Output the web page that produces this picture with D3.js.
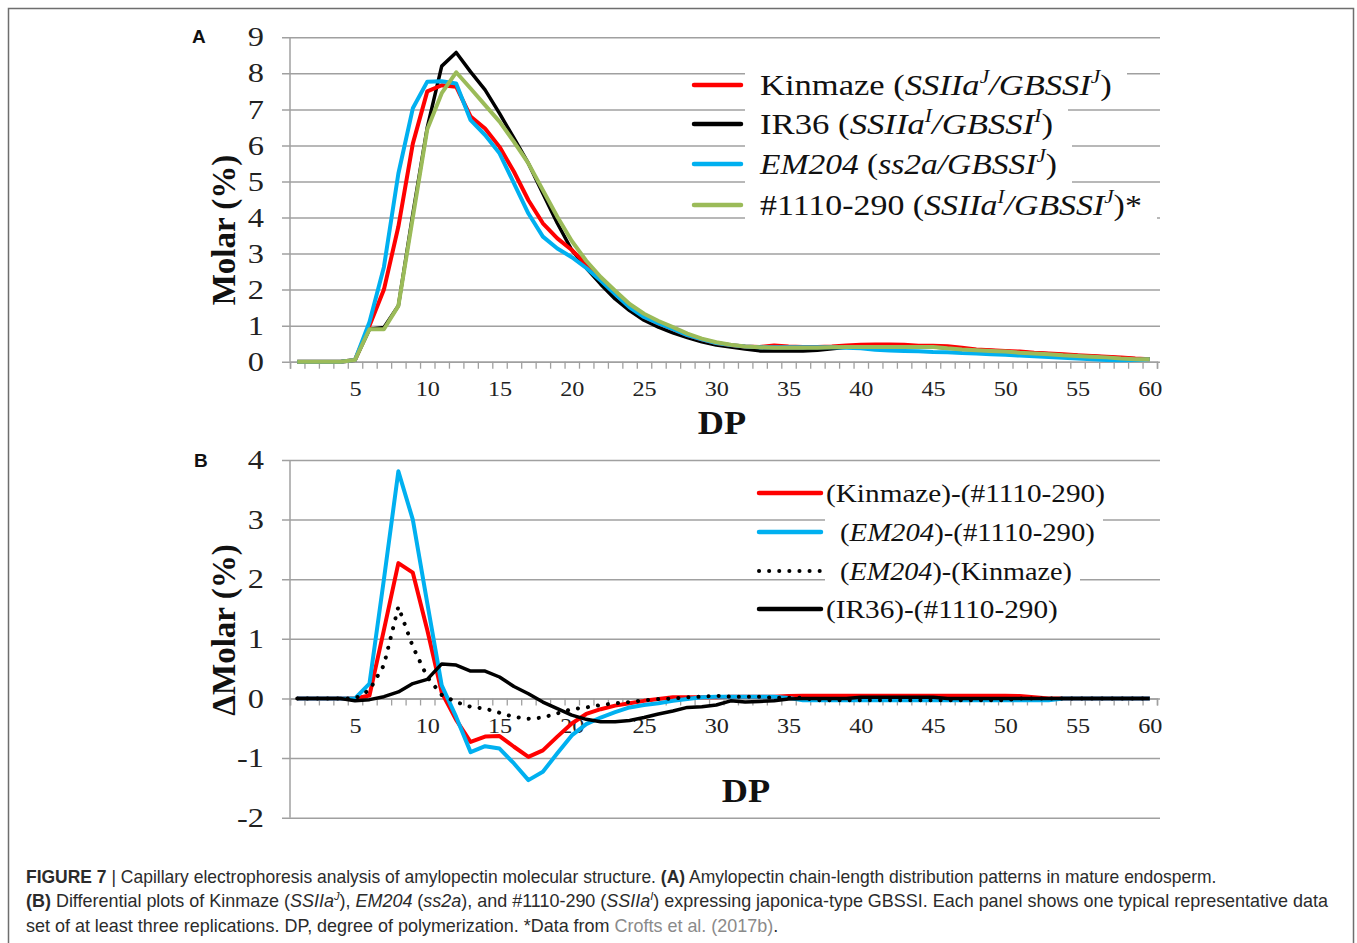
<!DOCTYPE html>
<html><head><meta charset="utf-8">
<script src="https://cdn.jsdelivr.net/npm/d3@7"></script>
<style>body{margin:0;background:#fff}svg{display:block}</style>
</head><body><svg id="c" width="1357" height="943"></svg>
<script>
// ---------- DATA ----------
const dp = d3.range(1, 61);
const xTickLabels = [5,10,15,20,25,30,35,40,45,50,55,60];
const yTicksA = [0,1,2,3,4,5,6,7,8,9];
const yTicksB = [-2,-1,0,1,2,3,4];

// Panel A: Molar (%) by DP 1..60
const kinmaze = [0,0,0,0,0.05,1.0,2.0,3.75,6.05,7.5,7.67,7.63,6.8,6.47,5.96,5.27,4.48,3.84,3.42,3.1,
  2.7,2.3,1.9,1.55,1.25,1.06,0.9,0.74,0.62,0.52,0.46,0.42,0.41,0.45,0.42,0.41,0.41,0.42,0.45,0.47,
  0.48,0.48,0.47,0.44,0.44,0.43,0.39,0.34,0.32,0.30,0.28,0.25,0.23,0.21,0.18,0.16,0.14,0.12,0.09,0.07];
const ir36 = [0,0,0,0,0.05,0.9,0.95,1.55,4.1,6.5,8.2,8.58,8.04,7.54,6.89,6.2,5.5,4.67,3.84,3.1,
  2.6,2.15,1.74,1.42,1.15,0.96,0.8,0.67,0.55,0.46,0.41,0.35,0.3,0.3,0.3,0.3,0.32,0.36,0.4,0.43,
  0.46,0.46,0.44,0.42,0.41,0.38,0.35,0.33,0.31,0.29,0.26,0.24,0.22,0.19,0.17,0.15,0.13,0.1,0.08,0.07];
const em204 = [0,0,0,0,0.05,1.1,2.63,5.22,7.03,7.77,7.78,7.72,6.7,6.29,5.78,4.95,4.11,3.47,3.14,2.9,
  2.6,2.25,1.88,1.51,1.24,1.06,0.9,0.74,0.62,0.52,0.46,0.42,0.4,0.4,0.4,0.4,0.4,0.4,0.39,0.37,
  0.33,0.31,0.30,0.29,0.27,0.26,0.24,0.23,0.21,0.19,0.17,0.15,0.13,0.11,0.09,0.07,0.05,0.04,0.05,0.07];
const l1110 = [0,0,0,0,0.05,0.9,0.9,1.55,4.0,6.45,7.45,8.03,7.58,7.12,6.66,6.1,5.5,4.76,4.02,3.35,
  2.8,2.35,1.97,1.6,1.33,1.13,0.96,0.78,0.64,0.54,0.47,0.42,0.4,0.39,0.39,0.39,0.39,0.4,0.41,0.41,
  0.41,0.41,0.41,0.41,0.41,0.37,0.34,0.32,0.30,0.28,0.25,0.23,0.21,0.18,0.16,0.14,0.12,0.09,0.07,0.07];

// Panel B: delta Molar (%) by DP 1..60
const dKin1110 = [0,0,0,0,0,0.05,1.15,2.27,2.11,1.15,0.1,-0.36,-0.73,-0.64,-0.63,-0.81,-0.98,-0.87,-0.64,-0.42,
  -0.26,-0.18,-0.12,-0.08,-0.04,-0.01,0.02,0.02,0.02,0.02,0.03,0.03,0.03,0.03,0.04,0.045,0.045,0.045,0.045,0.045,
  0.045,0.045,0.045,0.045,0.045,0.045,0.045,0.045,0.045,0.045,0.04,0.02,0,0,0,0,0,0,0,0];
const dEm1110 = [0,0,0,0,0,0.25,2.0,3.81,3.0,1.6,0.22,-0.31,-0.9,-0.8,-0.84,-1.09,-1.37,-1.23,-0.92,-0.62,
  -0.43,-0.32,-0.23,-0.15,-0.11,-0.08,-0.04,-0.01,0.02,0.03,0.03,0.03,0.03,0.03,0.01,-0.03,-0.03,-0.03,-0.03,-0.03,
  -0.03,-0.03,-0.03,-0.03,-0.03,-0.03,-0.03,-0.03,-0.03,-0.03,-0.03,-0.03,-0.03,0,0,0,0,0,0,0];
const dEmKin = [0,0,0,0,0,0.14,0.56,1.54,0.87,0.36,0.06,-0.06,-0.14,-0.17,-0.24,-0.31,-0.34,-0.32,-0.25,-0.18,
  -0.15,-0.11,-0.08,-0.06,-0.03,-0.01,0,0.02,0.03,0.045,0.03,0.03,0.03,0.01,0.01,0.01,-0.03,-0.03,-0.03,-0.03,
  -0.03,-0.03,-0.03,-0.03,-0.03,-0.03,-0.03,-0.03,-0.03,-0.03,0,0,0,0,0,0,0,0,0,0];
const dIr1110 = [0,0,0,0,-0.04,-0.02,0.03,0.11,0.25,0.32,0.58,0.56,0.46,0.46,0.36,0.2,0.08,-0.06,-0.17,-0.28,
  -0.35,-0.39,-0.39,-0.37,-0.32,-0.26,-0.21,-0.15,-0.14,-0.11,-0.04,-0.06,-0.05,-0.04,-0.01,0,0,0,0,0.02,
  0.02,0.02,0.02,0.02,0.02,0,0,0,0,0,0,0,0,0,0,0,0,0,0,0];

// ---------- DRAWING ----------
const svg = d3.select('#c');
const SERIF = "'Liberation Serif','Times New Roman',serif";
const SANS = "'Liberation Sans',Arial,sans-serif";
const GRID = '#a0a0a0';

svg.append('rect').attr('x',8.5).attr('y',8.5).attr('width',1345).attr('height',1000)
  .attr('fill','none').attr('stroke','#6e6e6e').attr('stroke-width',1.5);

const x = d3.scaleLinear().domain([0.5, 60.5]).range([290, 1157]);
const plotRight = 1160;

function rich(t, segs, fs){
  let up = 0;
  segs.forEach(s=>{
    const ts = t.append('tspan').text(s.t);
    if(s.b) ts.attr('font-weight','bold');
    if(s.i) ts.attr('font-style','italic');
    if(s.fill) ts.attr('fill', s.fill);
    if(s.sup){
      ts.attr('font-size', (fs*0.62)+'px');
      if(up===0){ ts.attr('dy', -fs*0.4); up = fs*0.4; }
    } else if(up){ ts.attr('dy', up); up = 0; }
  });
}
function stretch(sel, f){
  sel.each(function(){
    const w = this.getComputedTextLength();
    this.setAttribute('textLength', w*f);
    this.setAttribute('lengthAdjust','spacingAndGlyphs');
  });
}

function panel(y, yTicks, series, o){
  const g = svg.append('g');
  // gridlines
  g.append('g').attr('transform',`translate(282,0)`)
    .call(d3.axisLeft(y).tickValues(yTicks).tickSize(-(plotRight-282)).tickFormat(''))
    .call(a=>{a.select('.domain').remove(); a.selectAll('line').attr('stroke',GRID).attr('stroke-width',1.5);});
  // y labels
  g.append('g').attr('transform',`translate(290,0)`)
    .call(d3.axisLeft(y).tickValues(yTicks).tickSize(0).tickPadding(26).tickFormat(d=>String(d)))
    .call(a=>{a.select('.domain').remove();
      a.selectAll('text').attr('font-family',SERIF).attr('font-size',o.ytfs).attr('fill','#222').call(stretch,1.2);});
  // y axis line
  g.append('line').attr('x1',290).attr('x2',290).attr('y1',y(yTicks[yTicks.length-1])).attr('y2',y(yTicks[0]))
    .attr('stroke',GRID).attr('stroke-width',1.5);
  // x axis minor ticks
  const y0 = y(0);
  g.append('g').attr('transform',`translate(0,${y0})`)
    .call(d3.axisBottom(x).tickValues(d3.range(0.5,61,1)).tickSize(7).tickFormat(''))
    .call(a=>{a.select('.domain').attr('stroke',GRID).attr('stroke-width',1.5);
      a.selectAll('line').attr('stroke',GRID).attr('stroke-width',1.3);});
  // x labels
  g.append('g').attr('transform',`translate(0,${y0})`)
    .call(d3.axisBottom(x).tickValues(xTickLabels).tickSize(0).tickPadding(19))
    .call(a=>{a.select('.domain').remove();
      a.selectAll('text').attr('font-family',SERIF).attr('font-size',22).attr('fill','#222').call(stretch,1.1);});
  // legend backgrounds + text
  o.legend.forEach(l=>{
    const t = g.append('text').attr('x',0).attr('y',0)
      .attr('font-family',SERIF).attr('font-size',o.lfs).attr('fill','#111');
    rich(t, l.segs, o.lfs);
    const w0 = t.node().getComputedTextLength();
    const f = l.tw / w0;
    const by = l.y + o.lfs*0.34;
    t.attr('transform',`translate(${l.tx},${by}) scale(${f},1)`);
    const bb = t.node().getBBox();
    const right = Math.min(plotRight, l.tx + l.tw + o.padR);
    g.insert('rect', () => t.node()).attr('x',o.boxX).attr('y',by + bb.y - o.padT)
      .attr('width',right-o.boxX).attr('height',bb.height+o.padT+o.padB)
      .attr('fill','#fff');
  });
  // series
  series.forEach(s=>{
    const line = d3.line().x((d,i)=>x(dp[i])).y(d=>y(d));
    g.append('path').datum(s.v).attr('d',line).attr('fill','none')
      .attr('stroke',s.c).attr('stroke-width',s.w).attr('stroke-linejoin','round')
      .attr('stroke-linecap', s.dash?'round':'butt')
      .attr('stroke-dasharray', s.dash||null);
  });
  // legend samples
  o.legend.forEach(l=>{
    g.append('line').attr('x1',o.sx1).attr('x2',o.sx2).attr('y1',l.y).attr('y2',l.y)
      .attr('stroke',l.c).attr('stroke-width',l.w).attr('stroke-linecap','round')
      .attr('stroke-dasharray',l.dash||null);
  });
  // titles
  g.append('text').attr('transform',`translate(${o.ytx},${o.yty}) rotate(-90)`).attr('text-anchor','middle')
    .attr('font-family',SERIF).attr('font-weight','bold').attr('font-size',33).attr('fill','#111').text(o.ytitle);
  g.append('text').attr('x',o.xtx).attr('y',o.xty).attr('text-anchor','middle')
    .attr('font-family',SERIF).attr('font-weight','bold').attr('font-size',33).attr('fill','#111').text('DP')
    .call(stretch,1.1);
  g.append('text').attr('x',o.letterX).attr('y',o.letterY).attr('font-family',SANS).attr('font-weight','bold')
    .attr('font-size',19).attr('fill','#111').text(o.letter);
}

const yA = d3.scaleLinear().domain([0,9]).range([361.7, 37.3]);
const yB = d3.scaleLinear().domain([-2,4]).range([817.7, 460]);

panel(yA, yTicksA, [
  {v: ir36, c:'#000000', w:3.5},
  {v: kinmaze, c:'#ff0000', w:4},
  {v: em204, c:'#00b0f0', w:4},
  {v: l1110, c:'#9bbb59', w:4}
], {
  ytfs: 27, lfs: 30, boxX: 745, padT: 2, padB: 4, padR: 15, sx1: 694, sx2: 741,
  ytitle: 'Molar (%)', ytx: 235, yty: 230, xtx: 722, xty: 434, letter: 'A', letterX: 192, letterY: 43,
  legend: [
    {y: 85, tx: 760, tw: 352, c:'#ff0000', w:4.5, segs:[{t:'Kinmaze  ('},{t:'SSIIa',i:1},{t:'J',i:1,sup:1},{t:'/GBSSI',i:1},{t:'J',i:1,sup:1},{t:')'}]},
    {y: 124, tx: 760, tw: 293, c:'#000000', w:4.5, segs:[{t:'IR36 ('},{t:'SSIIa',i:1},{t:'I',i:1,sup:1},{t:'/GBSSI',i:1},{t:'I',i:1,sup:1},{t:')'}]},
    {y: 164, tx: 760, tw: 297, c:'#00b0f0', w:4.5, segs:[{t:'EM204',i:1},{t:' ('},{t:'ss2a/GBSSI',i:1},{t:'J',i:1,sup:1},{t:')'}]},
    {y: 205, tx: 760, tw: 382, c:'#9bbb59', w:4.5, segs:[{t:'#1110-290  ('},{t:'SSIIa',i:1},{t:'I',i:1,sup:1},{t:'/GBSSI',i:1},{t:'J',i:1,sup:1},{t:')*'}]}
  ]
});

panel(yB, yTicksB, [
  {v: dKin1110, c:'#ff0000', w:4},
  {v: dEm1110, c:'#00b0f0', w:4},
  {v: dEmKin, c:'#000000', w:4, dash:'0.1,10'},
  {v: dIr1110, c:'#000000', w:3.5}
], {
  ytfs: 27, lfs: 26, boxX: 825, padT: 2, padB: 4, padR: 8, sx1: 759, sx2: 821,
  ytitle: 'ΔMolar (%)', ytx: 235, yty: 630, xtx: 746, xty: 802, letter: 'B', letterX: 194, letterY: 467,
  legend: [
    {y: 493, tx: 826, tw: 279, c:'#ff0000', w:4.5, segs:[{t:'(Kinmaze)-(#1110-290)'}]},
    {y: 532, tx: 840, tw: 255, c:'#00b0f0', w:4.5, segs:[{t:'('},{t:'EM204',i:1},{t:')-(#1110-290)'}]},
    {y: 571, tx: 840, tw: 232, c:'#000000', w:4, dash:'0.1,10', segs:[{t:'('},{t:'EM204',i:1},{t:')-(Kinmaze)'}]},
    {y: 609, tx: 826, tw: 232, c:'#000000', w:4.5, segs:[{t:'(IR36)-(#1110-290)'}]}
  ]
});

// ---------- CAPTION ----------
const capLines = [
  {y: 883, w: 1191, segs:[{t:'FIGURE 7',b:1},{t:' | Capillary electrophoresis analysis of amylopectin molecular structure. '},{t:'(A)',b:1},{t:' Amylopectin chain-length distribution patterns in mature endosperm.'}]},
  {y: 907, w: 1303, segs:[{t:'(B)',b:1},{t:' Differential plots of Kinmaze ('},{t:'SSIIa',i:1},{t:'J',i:1,sup:1},{t:'), '},{t:'EM204',i:1},{t:' ('},{t:'ss2a',i:1},{t:'), and #1110-290 ('},{t:'SSIIa',i:1},{t:'I',i:1,sup:1},{t:') expressing japonica-type GBSSI. Each panel shows one typical representative data'}]},
  {y: 932, w: 753, segs:[{t:'set of at least three replications. DP, degree of polymerization. *Data from '},{t:'Crofts et al. (2017b)',fill:'#8a8a8a'},{t:'.'}]}
];
capLines.forEach(l=>{
  const t = svg.append('text').attr('x',0).attr('y',0).attr('font-family',SANS).attr('font-size',18).attr('fill','#2b2b2b');
  rich(t, l.segs, 18);
  const w = t.node().getComputedTextLength();
  t.attr('transform',`translate(26,${l.y}) scale(${l.w/w},1)`);
});
</script></body></html>
